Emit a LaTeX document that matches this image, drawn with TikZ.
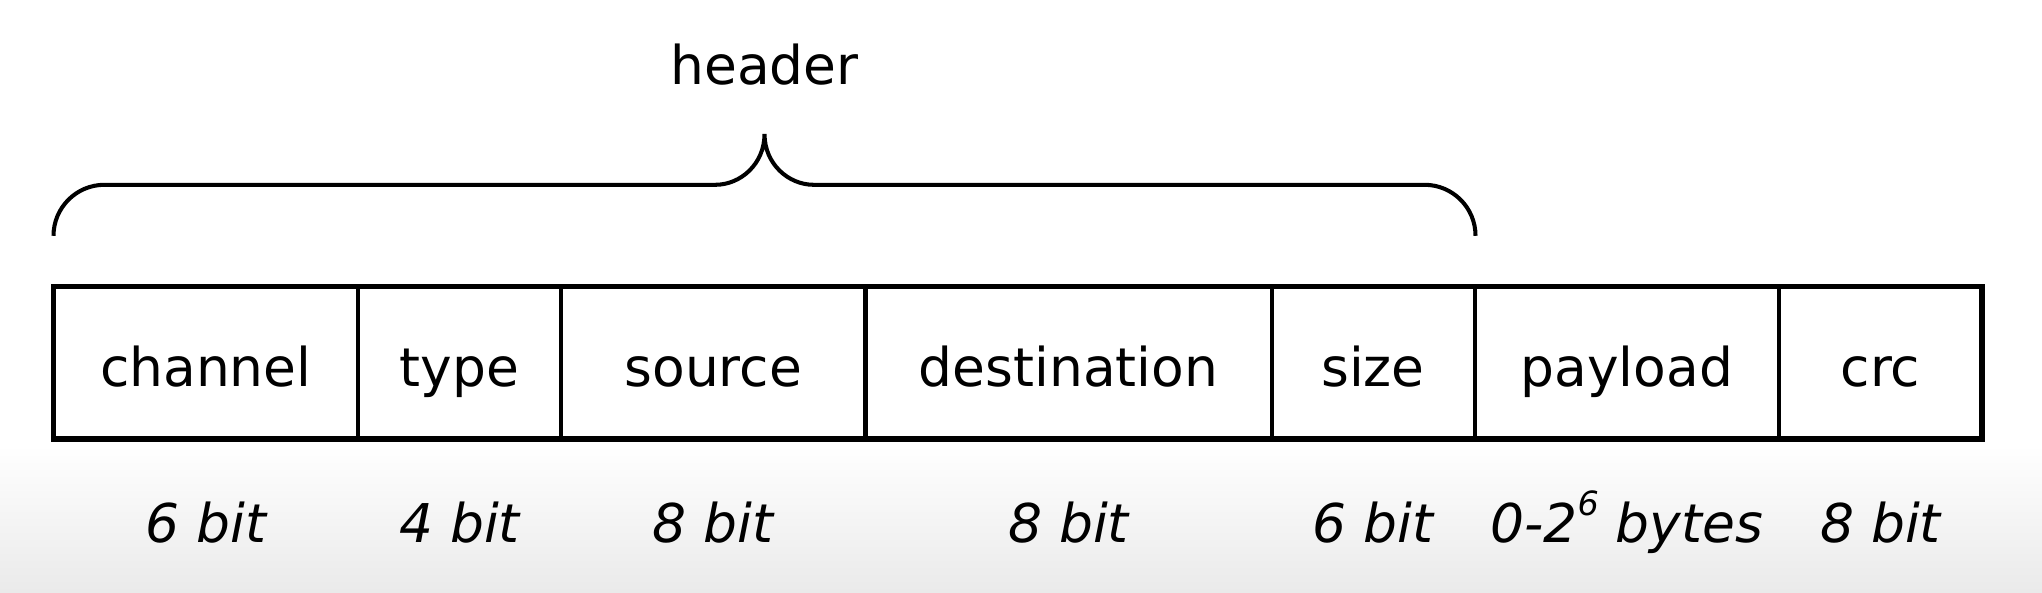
\documentclass[tikz,border=0pt]{standalone}
\usepackage{fontspec}
\setmainfont{DejaVu Sans}
\usetikzlibrary{positioning}
\definecolor{bggray}{RGB}{234,234,234}
\begin{document}
\begin{tikzpicture}[font=\fontsize{15.2}{18}\selectfont,
		field/.style={draw,line width=1.15pt,minimum height=1.525cm,outer sep=0pt,inner sep=0pt,text height=13.6pt,text depth=0pt},
		bits/.style={anchor=base,font=\fontsize{15.2}{18}\selectfont\itshape},
		brace/.style={line width=1.15pt}]
	\useasboundingbox (0,0) rectangle (20.42,5.92);
	\shade[top color=white,bottom color=bggray] (0,0) rectangle (20.42,1.47);
	% frame fields
	\node[field,minimum width=3.045cm,anchor=north west] (channel) at (0.535,3.055) {channel};
	\node[field,minimum width=2.03cm,right=0pt of channel] (type) {type};
	\node[field,minimum width=3.045cm,right=0pt of type] (source) {source};
	\node[field,minimum width=4.06cm,right=0pt of source] (destination) {destination};
	\node[field,minimum width=2.03cm,right=0pt of destination] (size) {size};
	\node[field,minimum width=3.045cm,right=0pt of size] (payload) {payload};
	\node[field,minimum width=2.03cm,right=0pt of payload] (crc) {crc};
	\draw[line width=1.45pt] (channel.north west) rectangle (crc.south east);
	% field sizes
	\coordinate (bitline) at (0,0.497);
	\foreach \f/\t in {channel/6 bit,type/4 bit,source/8 bit,destination/8 bit,size/6 bit,payload/0-2\raisebox{0.5em}{\fontsize{9.5}{10}\selectfont 6} bytes,crc/8 bit}
		\node[bits] (\f-bits) at (\f |- bitline) {\t};
	% header brace
	\draw[brace] ([yshift=5.07mm]channel.north west) arc[start angle=180,end angle=90,radius=5.1mm] -- ++(6.11,0)
		.. controls +(0.25,0) and +(0,-0.3) .. ++(0.49,0.508) coordinate (tip)
		.. controls +(0,-0.3) and +(-0.25,0) .. ++(0.49,-0.508) -- ++(6.11,0) arc[start angle=90,end angle=0,radius=5.1mm];
	\node[anchor=base] (header) at ([yshift=4.9mm]tip) {header};
\end{tikzpicture}
\end{document}
